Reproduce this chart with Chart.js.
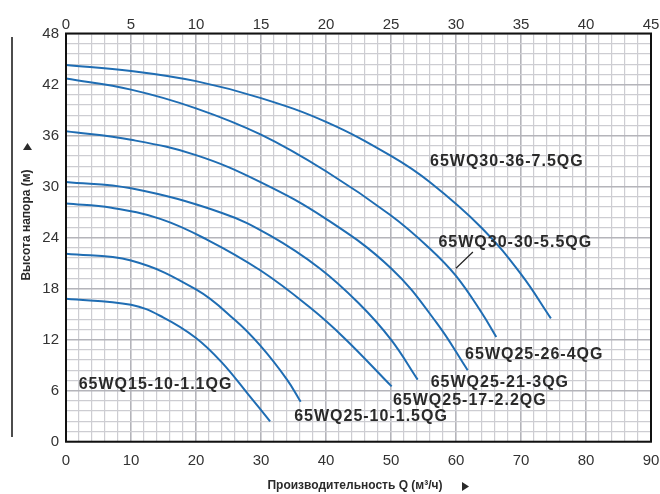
<!DOCTYPE html>
<html>
<head>
<meta charset="utf-8">
<script src="https://cdn.jsdelivr.net/npm/chart.js@4.4.1/dist/chart.umd.min.js"></script>
<style>
html, body { margin: 0; padding: 0; background: #fff; }
#wrap { width: 660px; height: 494px; }
</style>
</head>
<body>
<div id="wrap"><canvas id="pumpChart" width="660" height="494"></canvas></div>
<script>
// Pump curves: flow Q (m3/h) and head H (m)
const curveNames = [
    '65WQ30-36-7.5QG',
    '65WQ30-30-5.5QG',
    '65WQ25-26-4QG',
    '65WQ25-21-3QG',
    '65WQ25-17-2.2QG',
    '65WQ25-10-1.5QG',
    '65WQ15-10-1.1QG'
];

const q1 = [0, 10, 20, 30, 40, 50, 56, 64, 70, 74.6];
const h1 = [44.3, 43.6, 42.4, 40.4, 37.6, 33.6, 30.5, 25.1, 19.7, 14.5];

const q2 = [0, 10, 20, 30, 40, 50, 56, 60, 64, 66.2];
const h2 = [42.7, 41.4, 39.2, 36.1, 31.8, 26.6, 22.7, 19.5, 15.1, 12.3];

const q3 = [0, 10, 20, 30, 40, 50, 57, 61.8];
const h3 = [36.5, 35.5, 33.7, 30.5, 26.2, 20.4, 14.0, 8.4];

const q4 = [0, 10, 24, 31.5, 39, 45, 50, 54.1];
const h4 = [30.55, 29.8, 26.9, 24.2, 20.4, 16.3, 12.0, 7.3];

const q5 = [0, 7, 14.5, 21.6, 30, 37.5, 42.8, 50.1];
const h5 = [28.0, 27.5, 26.2, 23.8, 20.1, 15.8, 12.2, 6.5];

const q6 = [0, 10, 20, 26, 30, 34, 36.1];
const h6 = [22.1, 21.3, 17.9, 14.3, 11.2, 7.3, 4.7];

const q7 = [0, 10, 15, 20, 24, 28, 31.4];
const h7 = [16.8, 16.1, 14.6, 12.2, 9.3, 5.6, 2.4];

const qTicks = [0, 10, 20, 30, 40, 50, 60, 70, 80, 90];
const qTopTicks = [0, 5, 10, 15, 20, 25, 30, 35, 40, 45];
const hTicks = [0, 6, 12, 18, 24, 30, 36, 42, 48];

const curveQ = [q1, q2, q3, q4, q5, q6, q7];
const curveH = [h1, h2, h3, h4, h5, h6, h7];

// where each curve name sits (left edge, vertical middle), in chart units
const labelSpots = [
    [56.0, 32.9],
    [57.3, 23.4],
    [61.4, 10.3],
    [56.1, 6.9],
    [50.3, 4.8],
    [35.1, 2.9],
    [1.95, 6.75]
];

const fontName = '"Liberation Sans", Arial, Helvetica, sans-serif';
const lineBlue = '#1f6db3';

function isMultiple(v, step) {
    return Math.abs(v / step - Math.round(v / step)) < 1e-6;
}

const datasets = curveNames.map(function(name, i) {
    return {
        label: name,
        data: curveQ[i].map(function(q, j) { return { x: q, y: curveH[i][j] }; }),
        showLine: true,
        borderColor: lineBlue,
        borderWidth: 2,
        pointRadius: 0,
        tension: 0.4,
        fill: false
    };
});

// Extra drawing: frame, curve names, leader, axis titles and arrows
const extrasPlugin = {
    id: 'extras',
    afterDraw(chart) {
        const ctx = chart.ctx;
        const xs = chart.scales.x;
        const ys = chart.scales.y;
        const area = chart.chartArea;
        ctx.save();

        ctx.strokeStyle = '#111';
        ctx.lineWidth = 2;
        ctx.strokeRect(area.left, area.top, area.right - area.left, area.bottom - area.top);

        ctx.fillStyle = '#2a2a2a';
        ctx.textBaseline = 'middle';
        ctx.textAlign = 'left';
        ctx.font = 'bold 16px ' + fontName;
        ctx.letterSpacing = '1px';
        labelSpots.forEach(function(spot, i) {
            ctx.fillText(curveNames[i], xs.getPixelForValue(spot[0]), ys.getPixelForValue(spot[1]));
        });
        ctx.letterSpacing = '0px';

        // leader line for 65WQ30-30-5.5QG
        ctx.strokeStyle = '#222';
        ctx.lineWidth = 1.2;
        ctx.beginPath();
        ctx.moveTo(xs.getPixelForValue(62.6), ys.getPixelForValue(22.3));
        ctx.lineTo(xs.getPixelForValue(60.0), ys.getPixelForValue(20.4));
        ctx.stroke();

        // x axis title
        ctx.font = 'bold 12px ' + fontName;
        ctx.textAlign = 'center';
        ctx.fillText('Производительность Q (м³/ч)', 355, 486);
        ctx.beginPath();
        ctx.moveTo(462, 482);
        ctx.lineTo(469, 486.5);
        ctx.lineTo(462, 491);
        ctx.closePath();
        ctx.fill();

        // y axis title
        ctx.save();
        ctx.translate(27, 225);
        ctx.rotate(-Math.PI / 2);
        ctx.fillText('Высота напора (м)', 0, 0);
        ctx.restore();
        ctx.beginPath();
        ctx.moveTo(23, 150);
        ctx.lineTo(27.5, 143);
        ctx.lineTo(32, 150);
        ctx.closePath();
        ctx.fill();

        // side rule
        ctx.strokeStyle = '#111';
        ctx.lineWidth = 1.5;
        ctx.beginPath();
        ctx.moveTo(12, 37);
        ctx.lineTo(12, 437);
        ctx.stroke();

        ctx.restore();
    }
};

const ctx = document.getElementById('pumpChart').getContext('2d');
new Chart(ctx, {
    type: 'scatter',
    data: { datasets: datasets },
    options: {
        responsive: false,
        animation: false,
        layout: { padding: { left: 0, right: 9, top: 0, bottom: 0 } },
        plugins: {
            legend: { display: false },
            tooltip: { enabled: false }
        },
        scales: {
            x: {
                type: 'linear',
                position: 'bottom',
                min: 0,
                max: 90,
                afterFit: function(scale) {
                    scale.height = 52.3;
                    scale.paddingLeft = 0;
                    scale.paddingRight = 0;
                },
                afterBuildTicks: function(scale) {
                    const t = [];
                    for (let v = 0; v <= 90; v += 2) t.push({ value: v });
                    scale.ticks = t;
                },
                border: { display: false },
                grid: {
                    drawTicks: false,
                    color: function(c) { return isMultiple(c.tick.value, 10) ? '#b4b4ba' : '#cdcdd2'; },
                    lineWidth: function(c) { return isMultiple(c.tick.value, 10) ? 1.6 : 1.2; }
                },
                ticks: {
                    autoSkip: false,
                    maxRotation: 0,
                    padding: 10,
                    color: '#333',
                    font: { family: fontName, size: 15 },
                    callback: function(v) { return qTicks.indexOf(v) >= 0 ? String(v) : ''; }
                }
            },
            x2: {
                type: 'linear',
                position: 'top',
                min: 0,
                max: 45,
                afterFit: function(scale) {
                    scale.height = 33.5;
                    scale.paddingLeft = 0;
                    scale.paddingRight = 0;
                },
                afterBuildTicks: function(scale) {
                    scale.ticks = qTopTicks.map(function(v) { return { value: v }; });
                },
                border: { display: false },
                grid: { drawOnChartArea: false, drawTicks: false },
                ticks: {
                    autoSkip: false,
                    maxRotation: 0,
                    padding: 0,
                    color: '#333',
                    font: { family: fontName, size: 15 }
                }
            },
            y: {
                type: 'linear',
                min: 0,
                max: 48,
                afterFit: function(scale) { scale.width = 66; },
                afterBuildTicks: function(scale) {
                    const t = [];
                    for (let k = 0; k <= 40; k++) t.push({ value: k * 1.2 });
                    scale.ticks = t;
                },
                border: { display: false },
                grid: {
                    drawTicks: false,
                    color: function(c) { return isMultiple(c.tick.value, 6) ? '#b4b4ba' : '#cdcdd2'; },
                    lineWidth: function(c) { return isMultiple(c.tick.value, 6) ? 1.6 : 1.2; }
                },
                ticks: {
                    autoSkip: false,
                    padding: 7,
                    color: '#333',
                    font: { family: fontName, size: 15 },
                    callback: function(v) {
                        const r = Math.round(v);
                        return isMultiple(v, 6) && hTicks.indexOf(r) >= 0 ? String(r) : '';
                    }
                }
            }
        }
    },
    plugins: [extrasPlugin]
});
</script>
</body>
</html>
